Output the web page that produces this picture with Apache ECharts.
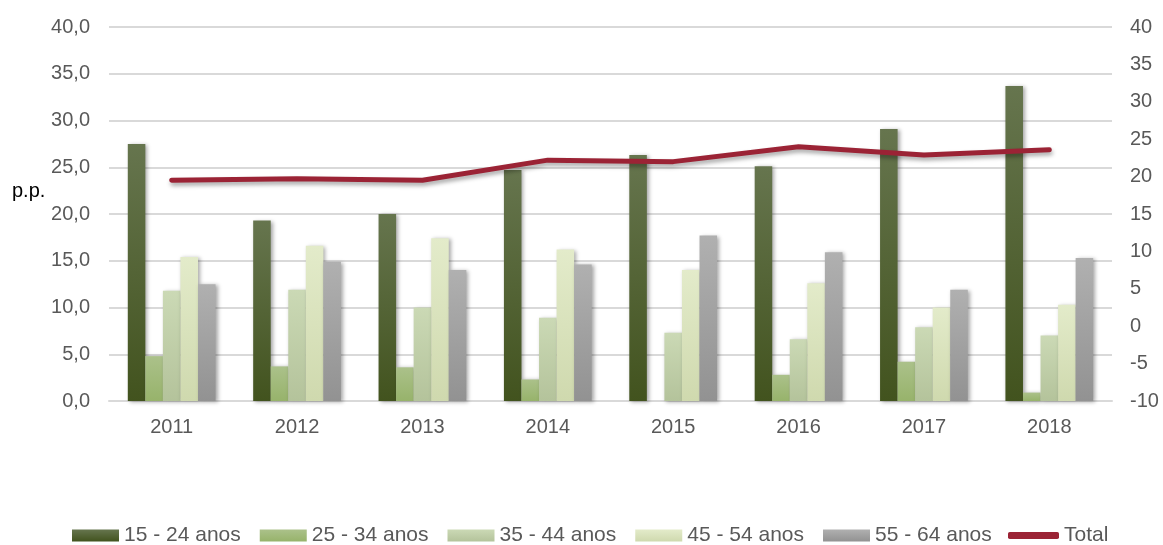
<!DOCTYPE html>
<html>
<head>
<meta charset="utf-8">
<script src="https://cdn.jsdelivr.net/npm/echarts@6/dist/echarts.min.js"></script>
<style>html,body{margin:0;padding:0;background:#fff;}#c{width:1163px;height:545px;}</style>
</head>
<body>
<div id="c"></div>
<script>
var categories = ['2011','2012','2013','2014','2015','2016','2017','2018'];
var s1524 = [27.5, 19.3, 20.0, 24.7, 26.3, 25.1, 29.1, 33.7];
var s2534 = [4.8, 3.7, 3.6, 2.3, 0.0, 2.8, 4.2, 0.9];
var s3544 = [11.8, 11.9, 10.0, 8.9, 7.3, 6.6, 7.9, 7.0];
var s4554 = [15.4, 16.6, 17.4, 16.2, 14.0, 12.6, 10.0, 10.3];
var s5564 = [12.5, 14.9, 14.0, 14.6, 17.7, 15.9, 11.9, 15.3];
var total = [19.5, 19.7, 19.5, 22.2, 22.0, 24.0, 22.9, 23.6];
var leftTicks = {min: 0, max: 40, interval: 5};
var rightTicks = {min: -10, max: 40, interval: 5};

var FONT = '"Liberation Sans", Arial, sans-serif';
function grad(top, bottom) {
  return new echarts.graphic.LinearGradient(0, 0, 0, 1, [
    {offset: 0, color: top}, {offset: 1, color: bottom}
  ]);
}
function barSeries(name, data, top, bottom) {
  return {
    name: name, type: 'bar', data: data, yAxisIndex: 0,
    barGap: '0%', barCategoryGap: '30%',
    itemStyle: {
      color: grad(top, bottom),
      shadowBlur: 4, shadowColor: 'rgba(0,0,0,0.35)', shadowOffsetX: 2, shadowOffsetY: 1
    },
    emphasis: {disabled: true}
  };
}
var chart = echarts.init(document.getElementById('c'), null, {renderer: 'canvas'});
chart.setOption({
  animation: false,
  backgroundColor: '#ffffff',
  textStyle: {fontFamily: FONT},
  grid: {left: 109, right: 51, top: 27, bottom: 144, containLabel: false},
  legend: [{
    left: 67, top: 520,
    itemWidth: 47, itemHeight: 12, itemGap: 19,
    textStyle: {color: '#595959', fontSize: 21, fontFamily: FONT},
    data: [
      {name: '15 - 24 anos', icon: 'rect'},
      {name: '25 - 34 anos', icon: 'rect'},
      {name: '35 - 44 anos', icon: 'rect'},
      {name: '45 - 54 anos', icon: 'rect'},
      {name: '55 - 64 anos', icon: 'rect'}
    ]
  }, {
    left: 1003, top: 520,
    itemWidth: 51, itemHeight: 7,
    textStyle: {color: '#595959', fontSize: 21, fontFamily: FONT},
    itemStyle: {color: '#9b2335', borderWidth: 0},
    data: [{name: 'Total', icon: 'roundRect'}]
  }],
  graphic: [{
    type: 'text', left: 12, top: 181,
    style: {text: 'p.p.', fill: '#000000', font: '20px ' + FONT}
  }],
  xAxis: {
    type: 'category', data: categories,
    axisLine: {lineStyle: {color: '#d9d9d9', width: 2}},
    axisTick: {show: false},
    axisLabel: {color: '#595959', fontSize: 20, margin: 16, fontFamily: FONT}
  },
  yAxis: [{
    type: 'value', min: leftTicks.min, max: leftTicks.max, interval: leftTicks.interval,
    axisLine: {show: false}, axisTick: {show: false},
    splitLine: {lineStyle: {color: '#d9d9d9', width: 2}},
    axisLabel: {color: '#595959', fontSize: 20, margin: 19, fontFamily: FONT,
      formatter: function (v) { return v.toFixed(1).replace('.', ','); }}
  }, {
    type: 'value', min: rightTicks.min, max: rightTicks.max, interval: rightTicks.interval,
    position: 'right',
    axisLine: {show: false}, axisTick: {show: false}, splitLine: {show: false},
    axisLabel: {color: '#595959', fontSize: 20, margin: 18, fontFamily: FONT}
  }],
  series: [
    barSeries('15 - 24 anos', s1524, '#66754e', '#42531e'),
    barSeries('25 - 34 anos', s2534, '#abc18a', '#97b36b'),
    barSeries('35 - 44 anos', s3544, '#cbd9b5', '#b4c39b'),
    barSeries('45 - 54 anos', s4554, '#e3ebca', '#cfd9ae'),
    barSeries('55 - 64 anos', s5564, '#b0b0b0', '#929292'),
    {
      name: 'Total', type: 'line', data: total, yAxisIndex: 1,
      symbol: 'none', smooth: false,
      lineStyle: {color: '#9b2335', width: 5, cap: 'round', join: 'round',
        shadowBlur: 4, shadowColor: 'rgba(0,0,0,0.35)', shadowOffsetX: 1, shadowOffsetY: 3},
      itemStyle: {color: '#9b2335'},
      emphasis: {disabled: true}
    }
  ]
});
</script>
</body>
</html>
